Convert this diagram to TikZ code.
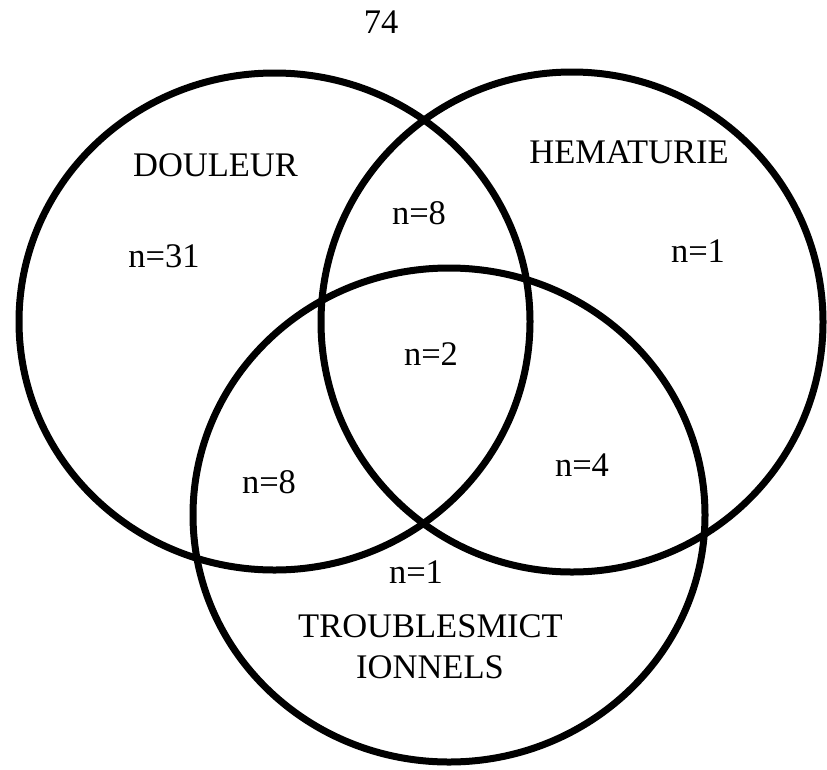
\documentclass[tikz,border=0pt]{standalone}
\usepackage{fontspec}
\setmainfont{Liberation Serif}
\begin{document}
\begin{tikzpicture}[x=1pt,y=-1pt,
  setring/.style={draw=black,line width=7pt},
  lbl/.style={anchor=base,inner sep=0pt,font=\fontsize{34.5}{41}\selectfont}]
\useasboundingbox (0,0) rectangle (827,769);
\fill[white] (0,0) rectangle (827,769);
% sets
\draw[setring] (274.5,321.5) ellipse [x radius=255.5pt, y radius=248.5pt];
\draw[setring] (572,322) ellipse [x radius=251pt, y radius=250pt];
\draw[setring] (449,515) ellipse [x radius=256pt, y radius=247pt];
% labels
\node[lbl] (total) at (381,33) {74};
\node[lbl] (douleur) at (215.5,176) {DOULEUR};
\node[lbl] (hematurie) at (629,163) {HEMATURIE};
\node[lbl] (troubles1) at (430.5,637) {TROUBLESMICT};
\node[lbl] (troubles2) at (430,678) {IONNELS};
% counts
\node[lbl] (d) at (164,267) {n=31};
\node[lbl] (h) at (698,262) {n=1};
\node[lbl] (dh) at (419,224) {n=8};
\node[lbl] (dht) at (431,365) {n=2};
\node[lbl] (dt) at (269,493) {n=8};
\node[lbl] (ht) at (582,476) {n=4};
\node[lbl] (t) at (416,583) {n=1};
\end{tikzpicture}
\end{document}
